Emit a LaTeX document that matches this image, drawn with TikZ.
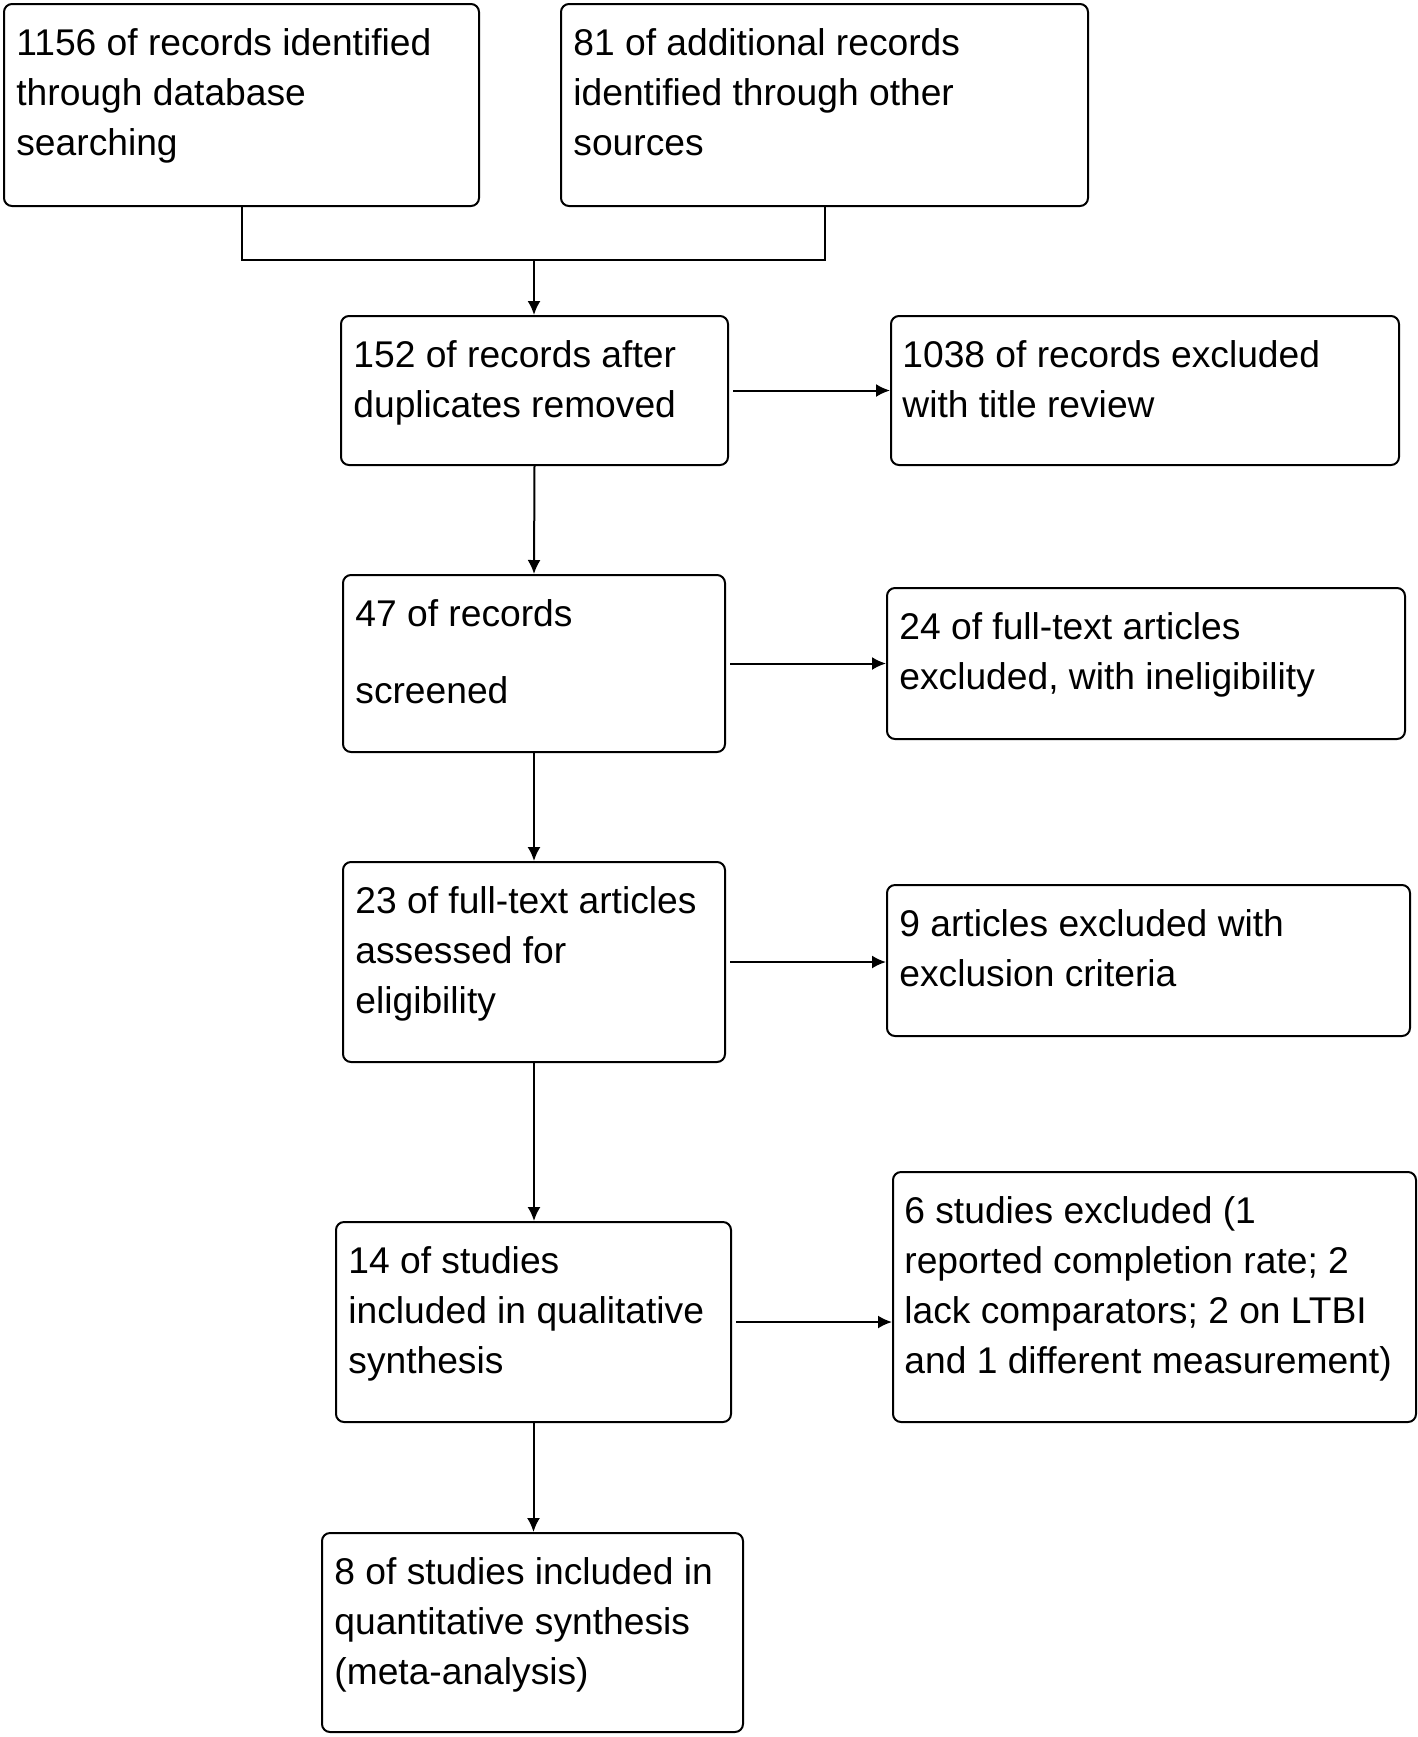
\documentclass[tikz,border=0pt]{standalone}
\usepackage{fontspec}
\setmainfont{Liberation Sans}
\usetikzlibrary{arrows.meta}
\begin{document}
\begin{tikzpicture}[x=0.5pt,y=-0.5pt,
  box/.style={draw=black, line width=1pt, rounded corners=4pt, anchor=north west, inner sep=0pt},
  txt/.style={anchor=north west, inner sep=0pt, align=left, font=\fontsize{18.6}{25}\selectfont},
  conn/.style={line width=1pt},
  arr/.style={line width=1pt, -{Latex[length=7pt,width=6.5pt]}}]
\useasboundingbox (0,0) rectangle (1418,1737);
% boxes
\node[box, minimum width=237.5pt, minimum height=101pt] (b1) at (3,3) {};
\node[box, minimum width=263.5pt, minimum height=101pt] (b2) at (560,3) {};
\node[box, minimum width=193.5pt, minimum height=74.5pt] (b3) at (340,315) {};
\node[box, minimum width=254pt, minimum height=74.5pt] (b4) at (890,315) {};
\node[box, minimum width=191pt, minimum height=88.5pt] (b5) at (342,574) {};
\node[box, minimum width=259pt, minimum height=75.5pt] (b6) at (886,587) {};
\node[box, minimum width=191pt, minimum height=100pt] (b7) at (342,861) {};
\node[box, minimum width=261.5pt, minimum height=75.5pt] (b8) at (886,884) {};
\node[box, minimum width=197.5pt, minimum height=100pt] (b9) at (335,1221) {};
\node[box, minimum width=261.5pt, minimum height=125pt] (b10) at (892,1171) {};
\node[box, minimum width=210.5pt, minimum height=99.5pt] (b11) at (321,1532) {};
% texts
\node[txt] (t1) at (16,20) {\strut 1156 of records identified\\through database\\searching};
\node[txt] (t2) at (573,20) {\strut 81 of additional records\\identified through other\\sources};
\node[txt] (t3) at (353,332) {\strut 152 of records after\\duplicates removed};
\node[txt] (t4) at (902,332) {\strut 1038 of records excluded\\with title review};
\node[txt] (t5) at (355,591) {\strut 47 of records\\[13.5pt]screened};
\node[txt] (t6) at (899,604) {\strut 24 of full-text articles\\excluded, with ineligibility};
\node[txt] (t7) at (355,878) {\strut 23 of full-text articles\\assessed for\\eligibility};
\node[txt] (t8) at (899,901) {\strut 9 articles excluded with\\exclusion criteria};
\node[txt] (t9) at (348,1238) {\strut 14 of studies\\included in qualitative\\synthesis};
\node[txt] (t10) at (904,1188) {\strut 6 studies excluded (1\\reported completion rate; 2\\lack comparators; 2 on LTBI\\and 1 different measurement)};
\node[txt] (t11) at (334,1549) {\strut 8 of studies included in\\quantitative synthesis\\(meta-analysis)};
% connectors
\coordinate (j) at (534,260);
\draw[conn] (b1.south) |- (j) -| (b2.south);
\draw[arr] (j) -- (j |- b3.north);
\draw[arr] ([xshift=2pt]b3.east) -- (b4.west |- b3.east);
\draw[arr] (b3.south) -- (b5.north);
\draw[arr] ([xshift=2pt]b5.east) -- (b6.west |- b5.east);
\draw[arr] (b5.south) -- (b7.north);
\draw[arr] ([xshift=2pt]b7.east) -- (b8.west |- b7.east);
\draw[arr] (b7.south) -- (b7.south |- b9.north);
\draw[arr] ([xshift=2pt]b9.east) -- (b10.west |- b9.east);
\draw[arr] (b9.south) -- (b9.south |- b11.north);
\end{tikzpicture}
\end{document}
